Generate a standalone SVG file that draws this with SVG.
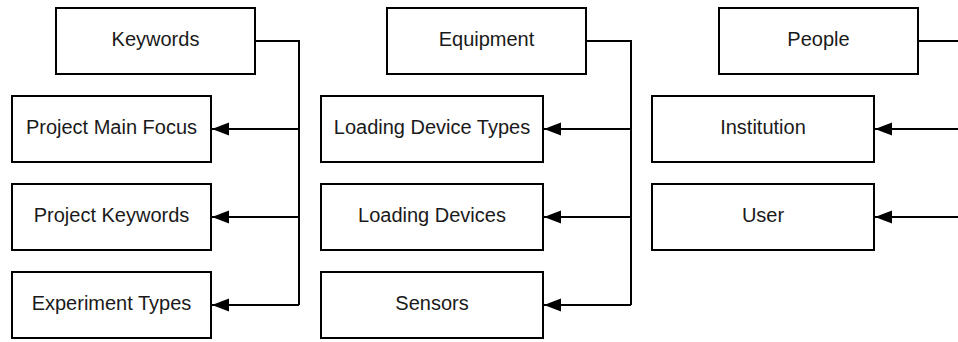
<svg xmlns="http://www.w3.org/2000/svg" width="958" height="342" viewBox="0 0 958 342">
  <style>
    .box { fill: #ffffff; stroke: #000000; stroke-width: 2; }
    .label { font-family: "Liberation Sans", Arial, sans-serif; font-size: 20px; fill: #1a1a1a; text-anchor: middle; }
    .wire { fill: none; stroke: #000000; stroke-width: 2; }
  </style>
  <defs>
    <marker id="arrow" markerUnits="userSpaceOnUse" markerWidth="18" markerHeight="14" refX="17" refY="7" orient="auto">
      <path d="M0,0.5 L17,7 L0,13.5 Z" fill="#000000"/>
    </marker>
  </defs>
  <rect width="958" height="342" fill="#ffffff"/>

  <!-- Keywords group -->
  <g id="keywords"><rect class="box" x="56" y="8" width="199" height="66"/><text class="label" x="155.5" y="45.5">Keywords</text></g>
  <g id="project-main-focus"><rect class="box" x="12" y="96" width="199" height="66"/><text class="label" x="111.5" y="133.5">Project Main Focus</text></g>
  <g id="project-keywords"><rect class="box" x="12" y="184" width="199" height="66"/><text class="label" x="111.5" y="221.5">Project Keywords</text></g>
  <g id="experiment-types"><rect class="box" x="12" y="272" width="199" height="66"/><text class="label" x="111.5" y="309.5">Experiment Types</text></g>

  <!-- Equipment group -->
  <g id="equipment"><rect class="box" x="387" y="8" width="199" height="66"/><text class="label" x="486.5" y="45.5">Equipment</text></g>
  <g id="loading-device-types"><rect class="box" x="321" y="96" width="222" height="66"/><text class="label" x="432" y="133.5">Loading Device Types</text></g>
  <g id="loading-devices"><rect class="box" x="321" y="184" width="222" height="66"/><text class="label" x="432" y="221.5">Loading Devices</text></g>
  <g id="sensors"><rect class="box" x="321" y="272" width="222" height="66"/><text class="label" x="432" y="309.5">Sensors</text></g>

  <!-- People group -->
  <g id="people"><rect class="box" x="719" y="8" width="199" height="66"/><text class="label" x="818.5" y="45.5">People</text></g>
  <g id="institution"><rect class="box" x="652" y="96" width="222" height="66"/><text class="label" x="763" y="133.5">Institution</text></g>
  <g id="user"><rect class="box" x="652" y="184" width="222" height="66"/><text class="label" x="763" y="221.5">User</text></g>

  <!-- Connectors -->
  <g id="connectors">
    <path class="wire" d="M255,41 H299 V305"/>
    <path class="wire" d="M299,129 H212" marker-end="url(#arrow)"/>
    <path class="wire" d="M299,217 H212" marker-end="url(#arrow)"/>
    <path class="wire" d="M299,305 H212" marker-end="url(#arrow)"/>

    <path class="wire" d="M586,41 H631 V305"/>
    <path class="wire" d="M631,129 H544" marker-end="url(#arrow)"/>
    <path class="wire" d="M631,217 H544" marker-end="url(#arrow)"/>
    <path class="wire" d="M631,305 H544" marker-end="url(#arrow)"/>

    <path class="wire" d="M918,41 H962"/>
    <path class="wire" d="M962,129 H875" marker-end="url(#arrow)"/>
    <path class="wire" d="M962,217 H875" marker-end="url(#arrow)"/>
  </g>
</svg>
